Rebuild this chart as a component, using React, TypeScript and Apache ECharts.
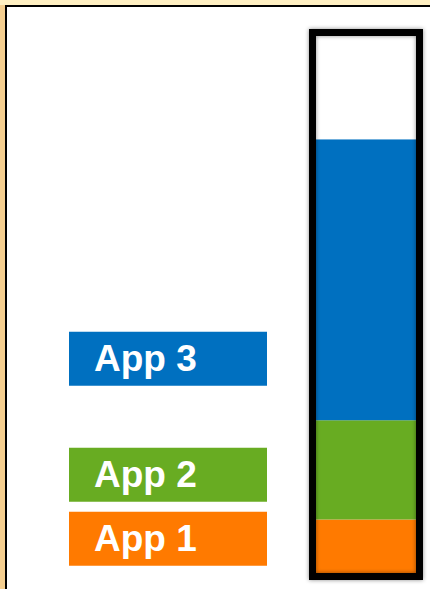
import React, { useEffect, useRef } from "react";
import * as echarts from "echarts";

const categories = ["Usage"];
const seriesNames = ["App 1", "App 2", "App 3", "Free"];
const app1Values = [11];
const app2Values = [18];
const app3Values = [51];
const freeValues = [20];
const seriesColors = ["#FF7A00", "#68AC22", "#0070C0", "#FFFFFF"];
const labelOffsets = [
  [0, -11],
  [0, 5],
  [0, 79],
];

export default function App() {
  const ref = useRef<HTMLDivElement>(null);

  useEffect(() => {
    document.body.style.margin = "0";
    const chart = echarts.init(ref.current!, null, { renderer: "svg" });
    const valueSets = [app1Values, app2Values, app3Values, freeValues];
    const totals = categories.map((_, i) =>
      valueSets.reduce((s, v) => s + v[i], 0)
    );

    const stackSeries = seriesNames.map((name, idx) => ({
      name,
      type: "bar",
      stack: "total",
      barWidth: 114,
      barGap: "-100%",
      data: valueSets[idx],
      itemStyle: { color: seriesColors[idx] },
      label:
        idx < 3
          ? {
              show: true,
              position: "left",
              distance: 42,
              offset: labelOffsets[idx],
              formatter: `{a|${name}}`,
              backgroundColor: seriesColors[idx],
              padding: [0, 0, 0, 25],
              rich: {
                a: {
                  width: 173,
                  height: 54,
                  lineHeight: 54,
                  align: "left",
                  color: "#FFFFFF",
                  fontSize: 37,
                  fontWeight: "bold",
                  fontFamily: "Liberation Sans, Arial, sans-serif",
                },
              },
            }
          : { show: false },
      z: 2,
    }));

    chart.setOption({
      animation: false,
      backgroundColor: "#FFFFFF",
      grid: { left: 309, right: 7, top: 29, bottom: 9 },
      xAxis: { type: "category", data: categories, show: false },
      yAxis: { type: "value", min: 0, max: 100, show: false },
      series: [
        ...stackSeries,
        {
          name: "outline",
          type: "bar",
          barWidth: 114,
          barGap: "-100%",
          data: totals,
          itemStyle: {
            color: "rgba(0,0,0,0)",
            borderColor: "#000000",
            borderWidth: 7,
            shadowBlur: 4,
            shadowColor: "rgba(0,0,0,0.45)",
          },
          z: 3,
          silent: true,
        },
      ],
      graphic: [
        { type: "rect", shape: { x: 0, y: 0, width: 430, height: 5 }, style: { fill: "#FFF0C2" } },
        { type: "rect", shape: { x: 0, y: 5, width: 5, height: 584 }, style: { fill: "#F5CF90" } },
        { type: "rect", shape: { x: 5, y: 5, width: 425, height: 2 }, style: { fill: "#000000" } },
        { type: "rect", shape: { x: 5, y: 5, width: 2, height: 584 }, style: { fill: "#000000" } },
      ],
    });
    return () => chart.dispose();
  }, []);

  return <div ref={ref} style={{ width: 430, height: 589 }} />;
}
